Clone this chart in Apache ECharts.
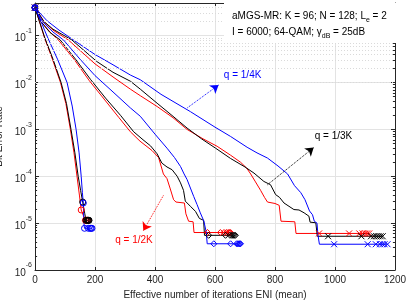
<!DOCTYPE html>
<html><head><meta charset="utf-8">
<script src="https://cdn.jsdelivr.net/npm/echarts@6/dist/echarts.min.js"></script>
<style>html,body{margin:0;padding:0;background:#fff}#c{width:407px;height:305px}</style>
</head><body><div id="c"></div>
<script>
// ---------- data (x = ENI mean, y = BER) ----------
const steepRed   = [[0,0.398],[15,0.2],[32,0.0891],[58,0.0316],[85,0.01],[103,0.00355],[118,0.001],[130,3.16e-4],[140,1e-4],[148,3.98e-5],[154,1.91e-5],[162,1.41e-5],[168,1.15e-5],[176,1.15e-5]];
const steepBlack = [[0,0.398],[15,0.2],[33,0.0891],[60,0.0316],[87,0.01],[105,0.00355],[120,0.001],[133,3.16e-4],[144,1e-4],[152,5.01e-5],[159,2.82e-5],[166,1.58e-5],[170,1.15e-5],[180,1.15e-5]];
const steepBlue  = [[0,0.398],[20,0.2],[43,0.0891],[75,0.0316],[107,0.01],[124,0.00316],[137,0.001],[147,3.16e-4],[154,1e-4],[158,4.47e-5],[161,2.69e-5],[163,1e-5],[165,7.76e-6],[190,7.76e-6]];
const steepRedMk   = [[0,0.398],[154,1.91e-5],[168,1.15e-5],[171,1.15e-5],[173,1.15e-5],[175,1.15e-5],[176,1.15e-5]];
const steepBlackMk = [[0,0.398],[159,2.82e-5],[170,1.15e-5],[174,1.15e-5],[177,1.15e-5],[179,1.15e-5],[180,1.15e-5]];
const steepBlueMk  = [[0,0.398],[161,2.69e-5],[165,7.76e-6],[178,7.76e-6],[184,7.76e-6],[187,7.76e-6],[190,7.76e-6]];

const midRed   = [[0,0.398],[20,0.2],[50,0.12],[78,0.0813],[130,0.0316],[180,0.0112],[230,0.00447],[280,0.00178],[318,8.91e-4],[350,5.62e-4],[390,3.55e-4],[412,2.51e-4],[428,1.12e-4],[440,8.91e-5],[450,5.62e-5],[462,3.16e-5],[470,2.82e-5],[498,2.69e-5],[503,1.58e-5],[512,1.1e-5],[527,1.07e-5],[530,6.31e-6],[652,6.31e-6]];
const midBlack = [[0,0.398],[20,0.2],[50,0.117],[84,0.0813],[135,0.0316],[185,0.0117],[235,0.00468],[285,0.002],[329,8.91e-4],[360,6.03e-4],[385,4.47e-4],[407,3.02e-4],[423,1.91e-4],[440,1.58e-4],[457,1.38e-4],[474,1e-4],[485,7.24e-5],[495,5.01e-5],[501,2.95e-5],[518,2.29e-5],[535,1.78e-5],[548,1.26e-5],[562,1.15e-5],[565,5.5e-6],[668,5.5e-6]];
const midBlue  = [[0,0.398],[25,0.2],[60,0.12],[95,0.0813],[150,0.0316],[200,0.0141],[260,0.00631],[318,0.00288],[351,0.00191],[400,7.94e-4],[440,3.98e-4],[465,2.51e-4],[485,1.62e-4],[497,1.12e-4],[507,8.51e-5],[518,5.62e-5],[529,3.72e-5],[540,2.51e-5],[551,1.66e-5],[563,1.1e-5],[568,1e-5],[571,6.31e-6],[574,3.63e-6],[685,3.63e-6]];
const midRedMk   = [[0,0.398],[575,6.31e-6],[618,6.31e-6],[630,6.31e-6],[638,6.31e-6],[644,6.31e-6],[648,6.31e-6],[652,6.31e-6]];
const midBlackMk = [[0,0.398],[579,5.5e-6],[635,5.5e-6],[650,5.5e-6],[656,5.5e-6],[660,5.5e-6],[664,5.5e-6],[668,5.5e-6]];
const midBlueMk  = [[0,0.398],[596,3.63e-6],[652,3.63e-6],[672,3.63e-6],[676,3.63e-6],[680,3.63e-6],[683,3.63e-6],[685,3.63e-6]];

const longRed   = [[0,0.398],[30,0.2],[60,0.132],[111,0.0813],[200,0.0251],[260,0.0132],[318,0.00724],[351,0.00525],[407,0.00309],[460,0.00178],[507,0.001],[560,6.31e-4],[607,4.37e-4],[652,2.82e-4],[685,2e-4],[705,1.51e-4],[719,1.12e-4],[735,7.59e-5],[752,5.01e-5],[765,3.55e-5],[775,2.82e-5],[800,2.63e-5],[814,2.4e-5],[820,1.1e-5],[866,1.07e-5],[870,6.03e-6],[1114,6.03e-6]];
const longBlack = [[0,0.398],[30,0.2],[60,0.138],[123,0.0813],[206,0.0282],[260,0.0166],[318,0.0107],[351,0.00724],[407,0.00363],[460,0.00191],[507,0.00107],[555,6.31e-4],[602,3.98e-4],[652,2.4e-4],[700,1.58e-4],[730,1.17e-4],[763,7.76e-5],[785,6.61e-5],[802,4.07e-5],[815,3.55e-5],[830,2.69e-5],[863,1.95e-5],[880,1.91e-5],[897,1.66e-5],[913,1.41e-5],[917,1.05e-5],[936,1.02e-5],[941,5.25e-6],[1159,5.25e-6]];
const longBlue  = [[0,0.398],[40,0.209],[80,0.132],[128,0.0813],[200,0.0398],[260,0.024],[318,0.0145],[351,0.0115],[420,0.00562],[518,0.0024],[600,0.00112],[652,7.08e-4],[707,4.17e-4],[740,3.16e-4],[775,2.45e-4],[810,1.66e-4],[842,1.12e-4],[865,6.31e-5],[886,4.47e-5],[900,3.16e-5],[915,1.82e-5],[925,1.51e-5],[931,1.1e-5],[940,1e-5],[943,5.75e-6],[948,3.55e-6],[1175,3.55e-6]];
const longRedMk   = [[0,0.398],[947,6.03e-6],[1047,6.03e-6],[1081,6.03e-6],[1092,6.03e-6],[1100,6.03e-6],[1107,6.03e-6],[1114,6.03e-6]];
const longBlackMk = [[0,0.398],[977,5.25e-6],[1088,5.25e-6],[1120,5.25e-6],[1130,5.25e-6],[1138,5.25e-6],[1145,5.25e-6],[1152,5.25e-6],[1159,5.25e-6]];
const longBlueMk  = [[0,0.398],[997,3.55e-6],[1109,3.55e-6],[1136,3.55e-6],[1150,3.55e-6],[1158,3.55e-6],[1165,3.55e-6],[1175,3.55e-6]];

const xTicks = [0,200,400,600,800,1000,1200];
const yDecades = [1e-6,1e-5,1e-4,1e-3,1e-2,1e-1];
const yMax = 0.5;
const minorMultipliers = [2,3,4,5,6,7,8,9];

// annotations: [label, labelX, labelY, arrowFromX, arrowFromY, arrowToX, arrowToY]
const annotQ4 = ['q = 1/4K', 692, 0.0145, 508, 0.0029, 612, 0.0089];
const annotQ3 = ['q = 1/3K', 995, 7.2e-4, 775, 6.6e-5, 929, 4.1e-4];
const annotQ2 = ['q = 1/2K', 330, 4.3e-6, 428, 3.9e-5, 361, 6.9e-6];
const infoLines = ['aMGS-MR: K = 96; N = 128; L{sub|e} = 2', 'I = 6000; 64-QAM; \u03b3{sub|dB} = 25dB'];

// ---------- chart ----------
const RED = '#ff0000', BLACK = '#000000', BLUE = '#0000ff', AX = '#262626';
const FONT = '"Liberation Sans", Arial, Helvetica, sans-serif';
const XSYM = 'path://M0,0L10,10M10,0L0,10';

const minorVals = [];
yDecades.forEach(d => minorMultipliers.forEach(m => { if (d*m < yMax) minorVals.push(d*m); }));

function lineS(data, color) {
  return {type:'line', data, showSymbol:false, symbol:'none', lineStyle:{color, width:1}, itemStyle:{color}, animation:false, silent:true, z:3};
}
function mkS(data, color, symbol) {
  return {type:'scatter', data, symbol, symbolSize:6,
    itemStyle:{color:'rgba(0,0,0,0)', borderColor:color, borderWidth:1, opacity:1}, animation:false, silent:true, z:4};
}
function arrowS(a, color) {
  return {type:'line', data:[], silent:true, animation:false, z:5,
    markLine:{silent:true, animation:false, symbol:['none','arrow'], symbolSize:8,
      lineStyle:{color, type:'dotted', width:1}, label:{show:false},
      data:[[{coord:[a[3],a[4]]},{coord:[a[5],a[6]]}]]}};
}

const minorGrid = {type:'line', data:[], silent:true, animation:false, z:1,
  markLine:{silent:true, animation:false, symbol:'none', label:{show:false},
    lineStyle:{color:'#dadada', type:[1,2], width:1},
    data: minorVals.map(v => ({yAxis:v}))}};
const minorTicks = {type:'line', data:[], silent:true, animation:false, z:6,
  markLine:{silent:true, animation:false, symbol:'none', label:{show:false},
    lineStyle:{color:AX, type:'solid', width:1},
    data: minorVals.map(v => [{coord:[0,v]},{coord:[7,v]}]).concat(minorVals.map(v => [{coord:[1193,v]},{coord:[1200,v]}]))}};

const yLabelFmt = v => {
  const l = Math.log10(v), e = Math.round(l);
  if (Math.abs(l - e) > 0.01) return '';
  return '{b|10}{s|' + e + '}';
};

const option = {
  animation:false,
  textStyle:{fontFamily:FONT},
  grid:{left:35, right:12, top:3, bottom:35, containLabel:false, outerBoundsMode:'none'},
  title:{text: infoLines.join('\n'), left:224, top:3, backgroundColor:'#ffffff',
    padding:[5,14,3,8],
    textStyle:{fontSize:10, fontWeight:'normal', color:'#000', fontFamily:FONT, lineHeight:16,
      rich:{sub:{fontSize:7, fontFamily:FONT, color:'#000', verticalAlign:'bottom', lineHeight:11}}}},
  xAxis:[
    {type:'value', min:xTicks[0], max:xTicks[xTicks.length-1], interval:xTicks[1]-xTicks[0], position:'bottom',
     name:'Effective number of iterations ENI (mean)', nameLocation:'middle', nameGap:18,
     nameTextStyle:{fontSize:10, color:AX, fontFamily:FONT},
     axisLine:{show:true, onZero:false, lineStyle:{color:AX, width:1}},
     axisTick:{show:true, inside:true, length:3, lineStyle:{color:AX}},
     axisLabel:{fontSize:10, color:AX, margin:5, fontFamily:FONT, formatter: v => String(v)},
     splitLine:{show:true, lineStyle:{color:'#e3e3e3', width:1}}},
    {type:'value', min:xTicks[0], max:xTicks[xTicks.length-1], interval:xTicks[1]-xTicks[0], position:'top',
     axisLine:{show:true, onZero:false, lineStyle:{color:AX, width:1}},
     axisTick:{show:true, inside:true, length:3, lineStyle:{color:AX}},
     axisLabel:{show:false}, splitLine:{show:false}}
  ],
  yAxis:[
    {type:'log', logBase:10, min:yDecades[0], max:yMax, position:'left',
     name:'Bit Error Rate', nameLocation:'middle', nameGap:31, nameRotate:90,
     nameTextStyle:{fontSize:10, color:AX, fontFamily:FONT},
     axisLine:{show:true, onZero:false, lineStyle:{color:AX, width:1}},
     axisTick:{show:true, inside:true, length:4, lineStyle:{color:AX}},
     axisLabel:{formatter:yLabelFmt, margin:3, color:AX, fontFamily:FONT, showMaxLabel:false,
       rich:{b:{fontSize:10, color:AX, fontFamily:FONT, padding:[6,0,0,0], verticalAlign:'bottom'},
             s:{fontSize:7, color:AX, fontFamily:FONT, verticalAlign:'top'}}},
     splitLine:{show:true, lineStyle:{color:'#e3e3e3', width:1}}},
    {type:'log', logBase:10, min:yDecades[0], max:yMax, position:'right',
     axisLine:{show:true, onZero:false, lineStyle:{color:AX, width:1}},
     axisTick:{show:true, inside:true, length:4, lineStyle:{color:AX}},
     axisLabel:{show:false}, splitLine:{show:false}}
  ],
  series:[
    minorGrid,
    lineS(longRed, RED), lineS(midRed, RED), lineS(steepRed, RED),
    lineS(longBlack, BLACK), lineS(midBlack, BLACK), lineS(steepBlack, BLACK),
    lineS(longBlue, BLUE), lineS(midBlue, BLUE), lineS(steepBlue, BLUE),
    mkS(longRedMk, RED, XSYM), mkS(midRedMk, RED, 'diamond'), mkS(steepRedMk, RED, 'circle'),
    mkS(longBlackMk, BLACK, XSYM), mkS(midBlackMk, BLACK, 'diamond'), mkS(steepBlackMk, BLACK, 'circle'),
    mkS(longBlueMk, BLUE, XSYM), mkS(midBlueMk, BLUE, 'diamond'), mkS(steepBlueMk, BLUE, 'circle'),
    arrowS(annotQ4, BLUE), arrowS(annotQ3, BLACK), arrowS(annotQ2, RED),
    minorTicks
  ]
};
const chart = echarts.init(document.getElementById('c'), null, {renderer:'canvas'});
chart.setOption(option);
// annotation labels placed through the chart's own scales
const labelDefs = [[annotQ4, BLUE], [annotQ3, BLACK], [annotQ2, RED]];
chart.setOption({graphic: labelDefs.map(([a, c]) => {
  const p = chart.convertToPixel({xAxisIndex:0, yAxisIndex:0}, [a[1], a[2]]);
  return {type:'text', x:p[0], y:p[1], z:10, silent:true,
    style:{text:a[0], fill:c, fontSize:10, fontFamily:FONT, align:'center', verticalAlign:'middle',
           textAlign:'center', textVerticalAlign:'middle'}};
})});
</script>
</body></html>
